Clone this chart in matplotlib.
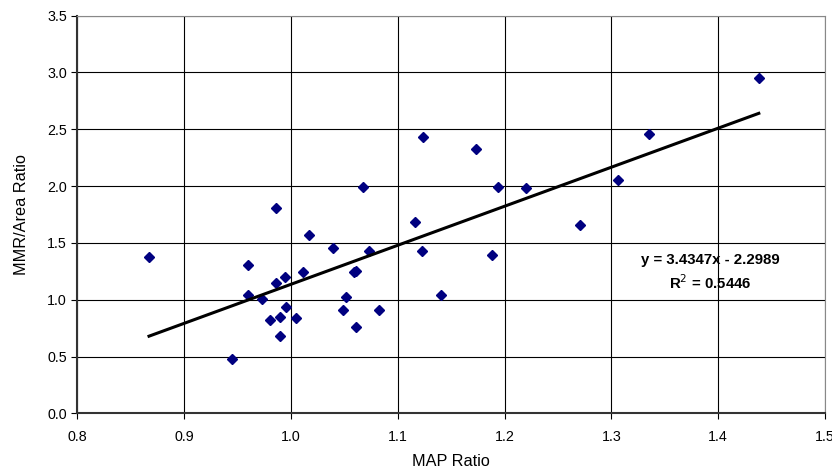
import matplotlib
matplotlib.use("Agg")
import matplotlib.pyplot as plt
from matplotlib.ticker import MultipleLocator, FormatStrFormatter

plt.rcParams['font.family'] = ['Liberation Sans', 'DejaVu Sans']

map_ratio = [0.867, 0.945, 0.960, 0.960, 0.973, 0.980, 0.986, 0.986, 0.990,
             0.990, 0.994, 0.995, 1.005, 1.011, 1.017, 1.039, 1.049, 1.051,
             1.059, 1.061, 1.061, 1.067, 1.073, 1.082, 1.116, 1.123, 1.124,
             1.140, 1.173, 1.188, 1.194, 1.220, 1.271, 1.306, 1.335, 1.438]
mmr_area = [1.376, 0.481, 1.305, 1.039, 1.003, 0.819, 1.810, 1.144, 0.848,
            0.680, 1.203, 0.939, 0.842, 1.241, 1.572, 1.452, 0.907, 1.027,
            1.244, 1.255, 0.762, 1.995, 1.429, 0.907, 1.684, 1.429, 2.435,
            1.039, 2.327, 1.391, 1.992, 1.986, 1.658, 2.051, 2.459, 2.949]

slope = 3.4347
intercept = -2.2989
r_squared = 0.5446

fig = plt.figure(figsize=(8.32, 4.74), dpi=100)
ax = fig.add_axes([0.0931, 0.128, 0.8985, 0.839])

ax.grid(True, color='black', linewidth=0.8)
ax.set_axisbelow(True)

ax.plot(map_ratio, mmr_area, linestyle='none', marker='D', markersize=5.2,
        color='#000080', zorder=3)

# linear trendline over the data range
x0, x1 = min(map_ratio), max(map_ratio)
ax.plot([x0, x1], [slope * x0 + intercept, slope * x1 + intercept],
        color='black', linewidth=2.2, zorder=4)

ax.text(1.393, 1.35, "y = %.4fx - %.4f" % (slope, -intercept), ha='center',
        va='center', fontsize=10.8, fontweight='bold')
ax.text(1.393, 1.147, "R$^2$ = %.4f" % r_squared, ha='center', va='center',
        fontsize=10.8, fontweight='bold')

ax.set_xlim(0.8, 1.5)
ax.set_ylim(0.0, 3.5)
ax.xaxis.set_major_locator(MultipleLocator(0.1))
ax.yaxis.set_major_locator(MultipleLocator(0.5))
ax.xaxis.set_major_formatter(FormatStrFormatter('%.1f'))
ax.yaxis.set_major_formatter(FormatStrFormatter('%.1f'))
ax.tick_params(labelsize=10.3, length=4, color='black')
ax.tick_params(axis='x', pad=8)

for side in ['top', 'right']:
    ax.spines[side].set_color('#888888')
    ax.spines[side].set_linewidth(0.8)
for side in ['left', 'bottom']:
    ax.spines[side].set_color('#333333')
    ax.spines[side].set_linewidth(1.5)

ax.set_xlabel("MAP Ratio", fontsize=11.7, labelpad=7)
ax.set_ylabel("MMR/Area Ratio", fontsize=11.7, labelpad=13)

plt.savefig("out.png", dpi=100)
